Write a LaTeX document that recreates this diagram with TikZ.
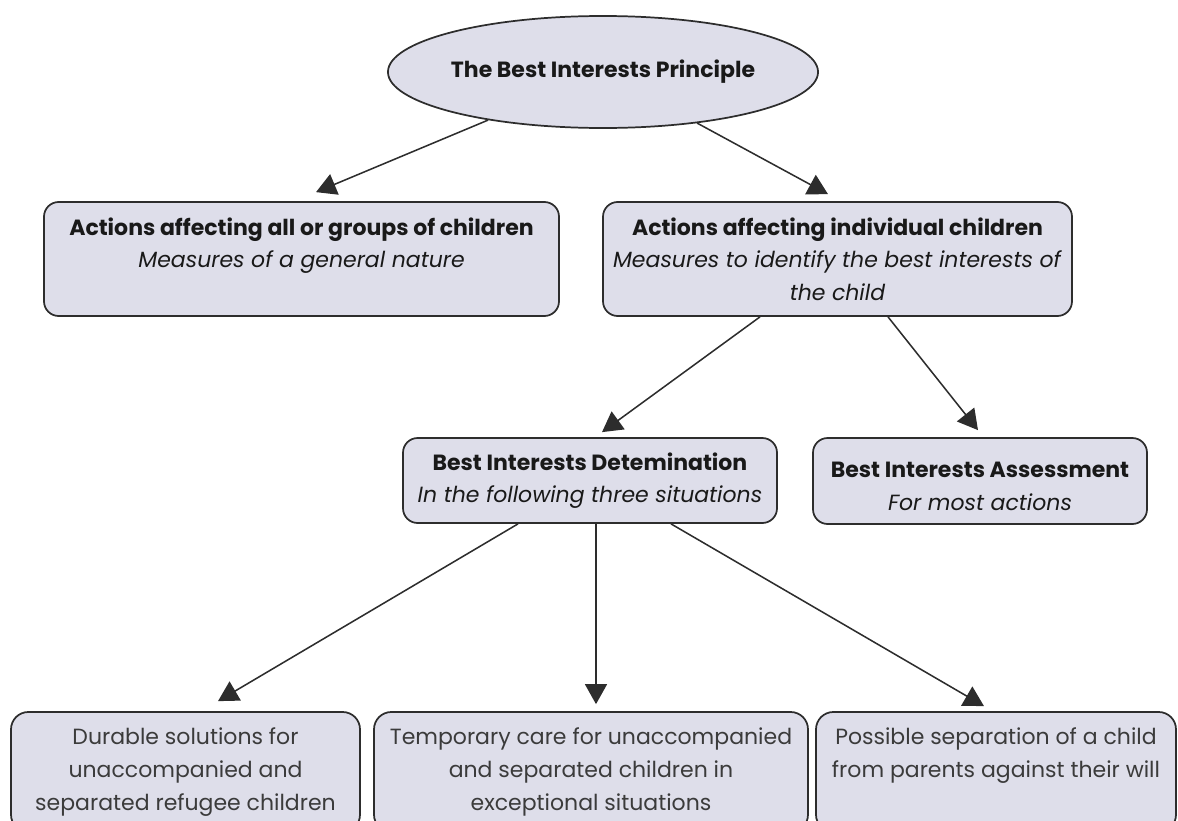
\documentclass[tikz,border=0pt]{standalone}
\usepackage{fontspec}
\setmainfont{Poppins}
\usetikzlibrary{arrows.meta,calc,shapes.geometric}
\definecolor{boxfill}{RGB}{222,222,234}
\definecolor{edge}{RGB}{45,45,45}
\definecolor{ink}{RGB}{25,25,25}
\begin{document}
\begin{tikzpicture}[x=0.75pt,y=-0.75pt,
  box/.style={draw=edge, line width=1.3pt, fill=boxfill, rounded corners=11pt, inner sep=0pt, align=center, text=ink, font=\fontsize{16.5}{24.5}\selectfont},
  oval/.style={ellipse, draw=edge, line width=1.3pt, fill=boxfill, inner sep=0pt, text=ink, font=\fontsize{16.5}{24}\selectfont\bfseries},
  arr/.style={draw=edge, line width=1.15pt, -{Triangle[length=15pt,width=16.5pt]}},
  lowbox/.style={box, rounded corners=13pt, font=\fontsize{16.5}{25}\selectfont, text=ink!85}
]
\useasboundingbox (0,0) rectangle (1178,821);
\clip (0,0) rectangle (1178,821);
\node[oval, minimum width=262.5pt, minimum height=84pt] (top) at (603,72) {The Best Interests Principle};
\node[box, minimum width=386.25pt, minimum height=85.5pt] (A) at (301.5,259)
  {\textbf{Actions affecting all or groups of children}\\\textit{Measures of a general nature}\\\phantom{\textit{the child}}};
\node[box, minimum width=351.75pt, minimum height=85.5pt] (B) at (837.5,259)
  {\textbf{Actions affecting individual children}\\\textit{Measures to identify the best interests of}\\\textit{the child}};
\node[box, minimum width=280.5pt, minimum height=63.75pt] (BID) at (590,480.5)
  {\textbf{Best Interests Detemination}\\\textit{In the following three situations}};
\node[box, minimum width=250.5pt, minimum height=64.5pt] (BIA) at (980,481)
  {\mbox{}\\[-5pt]\textbf{Best Interests Assessment}\\\textit{For most actions}};
\node[lowbox, minimum width=261.75pt, minimum height=90pt] (D1) at (185.5,772)
  {Durable solutions for\\unaccompanied and\\separated refugee children};
\node[lowbox, minimum width=325.5pt, minimum height=90pt] (D2) at (591,772)
  {Temporary care for unaccompanied\\and separated children in\\exceptional situations};
\node[lowbox, minimum width=270pt, minimum height=90pt] (D3) at (996,772)
  {Possible separation of a child\\from parents against their will\\\phantom{separated}};
\draw[arr] (top) -- ($(A.north)+(14.5,-9)$);
\draw[arr] (top) -- ($(B.north)+(-9.5,-7)$);
\draw[arr] ($(B.south)+(-77.5,0)$) -- ($(BID.north)+(12,-5)$);
\draw[arr] ($(B.south)+(50.5,0)$) -- ($(BIA.north)+(-2,-7)$);
\draw[arr] ($(BID.south)+(-72,0)$) -- ($(D1.north)+(32.5,-10)$);
\draw[arr] ($(BID.south)+(6,0)$) -- ($(D2.north)+(5,-7)$);
\draw[arr] ($(BID.south)+(81,0)$) -- ($(D3.north)+(-12,-5)$);
\end{tikzpicture}
\end{document}
